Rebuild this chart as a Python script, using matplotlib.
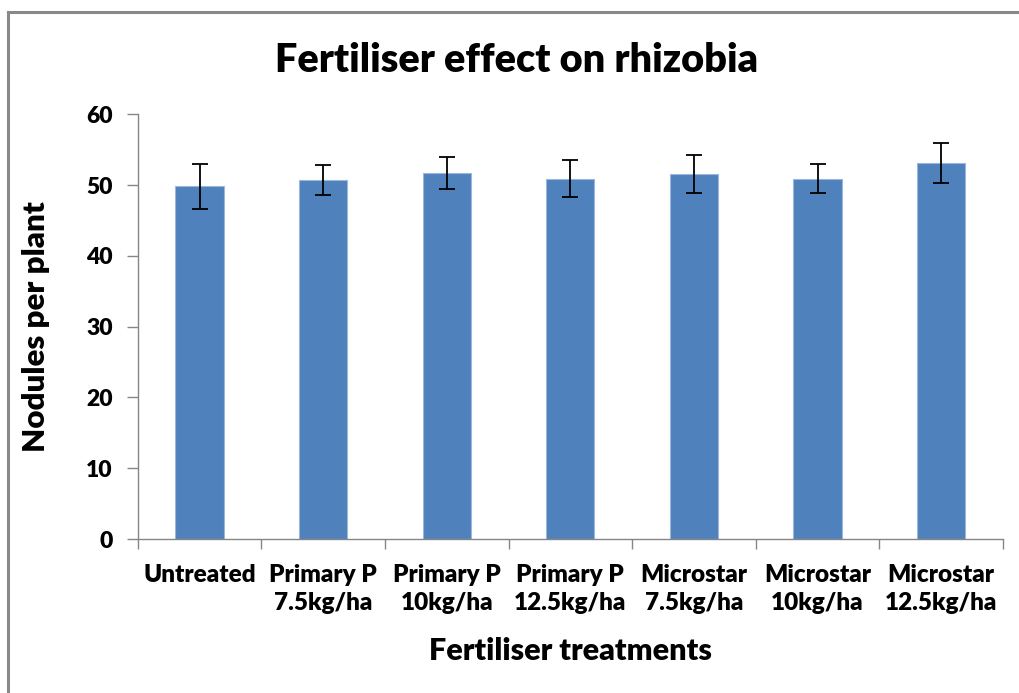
import matplotlib.pyplot as plt
from matplotlib.lines import Line2D
import numpy as np

# Datos
categorias = ["Untreated", "Primary P\n7.5kg/ha", "Primary P\n10kg/ha", "Primary P\n12.5kg/ha",
              "Microstar\n7.5kg/ha", "Microstar\n10kg/ha", "Microstar\n12.5kg/ha"]
nodulos = [49.8, 50.7, 51.7, 50.9, 51.6, 50.9, 53.15]
error = [3.15, 2.15, 2.3, 2.6, 2.7, 2.05, 2.85]

plt.rcParams['font.family'] = ['Lato', 'DejaVu Sans']
peso = 'heavy'

W, H = 1020, 693
fig = plt.figure(figsize=(W / 100, H / 100), dpi=100)
ax = fig.add_axes([137.7 / W, 1 - 539 / H, (1003 - 137.7) / W, (539 - 114.3) / H])

x = np.arange(len(categorias))
ax.bar(x, nodulos, width=0.39, color="#4F81BD", edgecolor="#9DB7DB", linewidth=0.8,
       yerr=error, capsize=6, error_kw=dict(ecolor="black", elinewidth=1.3, capthick=1.3))

ax.set_xlim(-0.5, len(categorias) - 0.5)
ax.set_ylim(0, 60)
ax.set_yticks(range(0, 61, 10))
ax.set_xticks(x)
ax.set_xticklabels(categorias, fontsize=17.5, fontweight=peso, linespacing=1.35)
ax.set_xticks(np.arange(-0.5, len(categorias)), minor=True)
ax.tick_params(axis='x', which='major', length=0, pad=18)
ax.tick_params(axis='x', which='minor', length=7, color="#868686", width=1)
ax.tick_params(axis='y', length=8, color="#868686", width=1, labelsize=16.5, pad=10)
for lbl in ax.get_yticklabels():
    lbl.set_fontweight(peso)

for s in ['top', 'right']:
    ax.spines[s].set_visible(False)
for s in ['left', 'bottom']:
    ax.spines[s].set_color("#868686")
    ax.spines[s].set_linewidth(1)

fig.text(517 / W, 1 - 60 / H, "Fertiliser effect on rhizobia", ha='center', va='center',
         fontsize=28.5, fontweight=peso)
fig.text(570 / W, 1 - 651 / H, "Fertiliser treatments", ha='center', va='center',
         fontsize=22, fontweight=peso)
fig.text(36 / W, 1 - 327 / H, "Nodules per plant", ha='center', va='center',
         rotation=90, fontsize=22.5, fontweight=peso)

# Borde gris del area del grafico (recortado a la derecha y abajo)
fig.add_artist(Line2D([8 / W, 8 / W], [0, 1 - 12 / H], color="#898989", lw=2.2, transform=fig.transFigure))
fig.add_artist(Line2D([8 / W, 1], [1 - 12 / H, 1 - 12 / H], color="#898989", lw=2.2, transform=fig.transFigure))

fig.savefig("out.png", dpi=100)
